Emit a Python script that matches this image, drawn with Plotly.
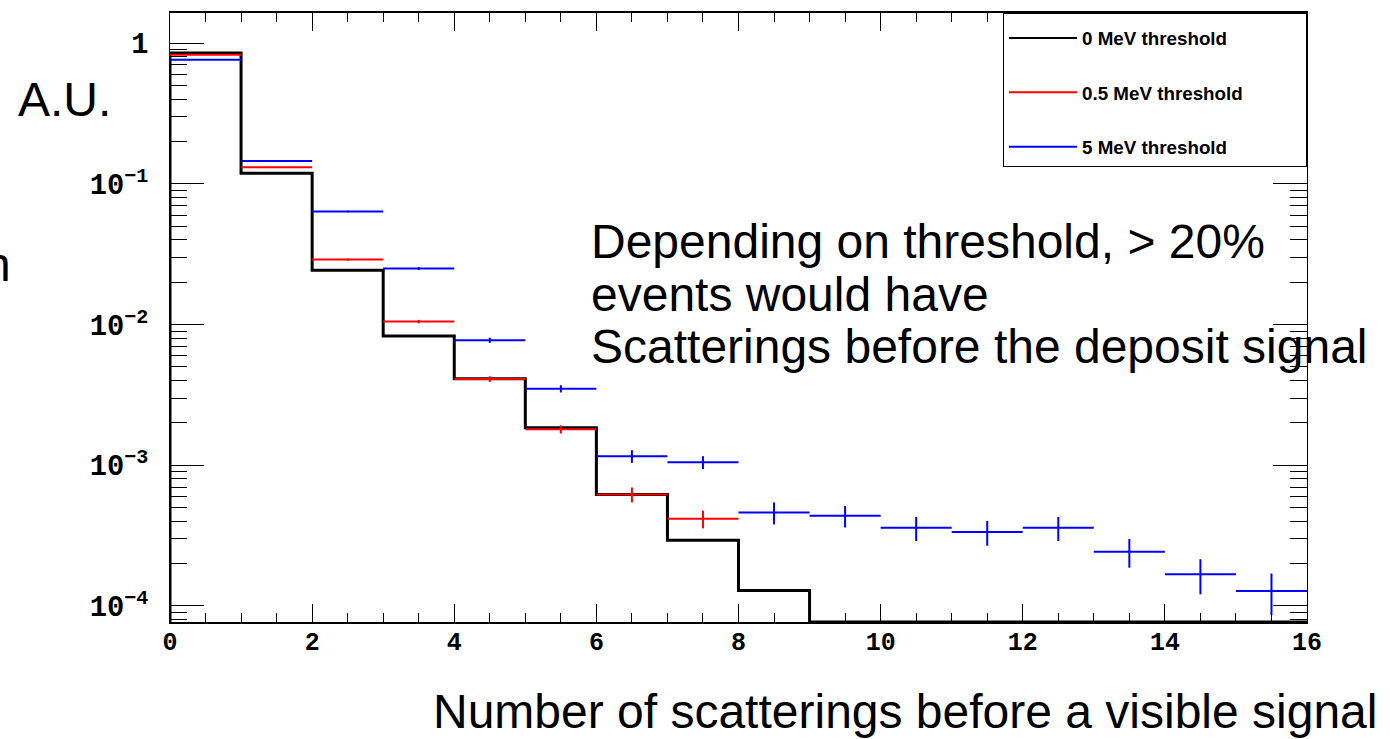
import plotly.graph_objects as go

# ---------------- data ----------------
bin_edges = list(range(0, 17))                      # number of scatterings, 16 bins
bin_centers = [b + 0.5 for b in range(16)]

h_0mev = [0.85, 0.119, 0.0243, 0.0083, 0.00412, 0.00185, 6.2e-4, 2.93e-4,
          1.29e-4, 0, 0, 0, 0, 0, 0, 0]

h_05mev = [0.826, 0.131, 0.029, 0.0105, 0.0041, 0.0018, 6.2e-4, 4.16e-4]
e_05mev = [2.7e-3, 1.07e-3, 5.0e-4, 3.0e-4, 1.9e-4, 1.2e-4, 7.5e-5, 6.0e-5]

h_5mev = [0.762, 0.1455, 0.0637, 0.025, 0.00774, 0.0035, 0.00116, 0.00105,
          4.62e-4, 4.37e-4, 3.59e-4, 3.35e-4, 3.59e-4, 2.43e-4, 1.68e-4, 1.28e-4]
e_5mev = [3.2e-3, 1.4e-3, 9.4e-4, 5.9e-4, 3.3e-4, 2.1e-4, 1.2e-4, 1.1e-4,
          8.2e-5, 7.6e-5, 7.0e-5, 6.7e-5, 7.0e-5, 5.6e-5, 4.7e-5, 4.2e-5]

legend_names = ["0 MeV threshold", "0.5 MeV threshold", "5 MeV threshold"]
colors = ["#000000", "#ff0000", "#0000ff"]

y_log_range = [-4.114, 0.2144]
y_floor = 10 ** y_log_range[0]

# ---------------- layout geometry ----------------
W, H = 1390, 739
ML, MR, MT, MB = 170, 83, 11, 117
PW, PH = W - ML - MR, H - MT - MB


def px_x(p):
    return (p - ML) / PW


def px_y(p):
    return (H - MB - p) / PH


fig = go.Figure()

# black histogram (step outline); empty bins sit on the axis floor
step_x = [bin_edges[0]] + bin_edges
step_y = [y_floor] + [v if v > 0 else y_floor for v in h_0mev] + \
         [h_0mev[-1] if h_0mev[-1] > 0 else y_floor]
fig.add_trace(go.Scatter(x=step_x, y=step_y, mode="lines", line_shape="hv",
                         line=dict(color=colors[0], width=3),
                         showlegend=False, hoverinfo="skip"))

# red & blue: bin-width horizontal bars with vertical error bars
for vals, errs, col in [(h_05mev, e_05mev, colors[1]), (h_5mev, e_5mev, colors[2])]:
    fig.add_trace(go.Scatter(
        x=bin_centers[:len(vals)], y=vals, mode="markers",
        marker=dict(size=1, color=col, opacity=0),
        error_x=dict(type="constant", value=0.5, width=0, thickness=2, color=col),
        error_y=dict(type="data", array=errs, width=0, thickness=2, color=col),
        showlegend=False))

# legend entries (trailing no-break spaces widen the legend box like the original)
pad = "\u00a0" * 11
for i, (name, col) in enumerate(zip(legend_names, colors)):
    fig.add_trace(go.Scatter(x=[None], y=[None], mode="lines", name=name + pad,
                             legendgroup=f"g{i}",
                             line=dict(color=col, width=2)))

big_font = dict(family="Liberation Sans, Arial, sans-serif", size=48, color="black")

annotations = [
    dict(text="A.U.", x=px_x(16), y=px_y(98), xanchor="left", yanchor="middle"),
    dict(text="n", x=px_x(13), y=px_y(263), xanchor="right", yanchor="middle"),
    dict(text="Depending on threshold, > 20%", x=px_x(589), y=px_y(240),
         xanchor="left", yanchor="middle"),
    dict(text="events would have", x=px_x(589), y=px_y(293),
         xanchor="left", yanchor="middle"),
    dict(text="Scatterings before the deposit signal", x=px_x(589), y=px_y(346),
         xanchor="left", yanchor="middle"),
    dict(text="Number of scatterings before a visible signal", x=px_x(1379),
         y=px_y(712), xanchor="right", yanchor="middle"),
]
for a in annotations:
    a.update(xref="paper", yref="paper", showarrow=False, font=big_font)

xtick_font = dict(family="Liberation Mono, Courier New, monospace", size=25,
                  color="black", weight="bold")
ytick_font = dict(family="Liberation Mono, Courier New, monospace", size=23,
                  color="black", weight="bold")

fig.update_layout(
    width=W, height=H,
    margin=dict(l=ML, r=MR, t=MT, b=MB, pad=0),
    paper_bgcolor="white", plot_bgcolor="white",
    annotations=annotations,
    showlegend=True,
    legend=dict(x=1, y=1, xanchor="right", yanchor="top",
                bordercolor="black", borderwidth=1, bgcolor="white",
                font=dict(family="Liberation Sans, Arial, sans-serif", size=18.8,
                          color="black", weight="bold"),
                title=dict(text="\u00a0", font=dict(size=4)),
                tracegroupgap=27, itemwidth=68),
    xaxis=dict(range=[0, 16], tick0=0, dtick=2, ticks="inside", ticklen=18,
               tickwidth=1, tickcolor="black", showline=True, linecolor="black",
               linewidth=1.5, mirror="ticks", showgrid=False, zeroline=False,
               tickfont=xtick_font, ticklabelstandoff=-4,
               minor=dict(ticks="inside", ticklen=9, dtick=0.5, tickcolor="black",
                          tickwidth=1, showgrid=False)),
    yaxis=dict(type="log", range=y_log_range, dtick=1, exponentformat="power",
               ticks="inside", ticklen=34, tickwidth=1, tickcolor="black",
               showline=True, linecolor="black", linewidth=1, mirror="ticks",
               showgrid=False, zeroline=False, tickfont=ytick_font,
               ticklabelstandoff=16,
               minor=dict(ticks="inside", ticklen=17, dtick="D1", tickcolor="black",
                          tickwidth=1, showgrid=False)),
)

fig.write_html("out.html")
